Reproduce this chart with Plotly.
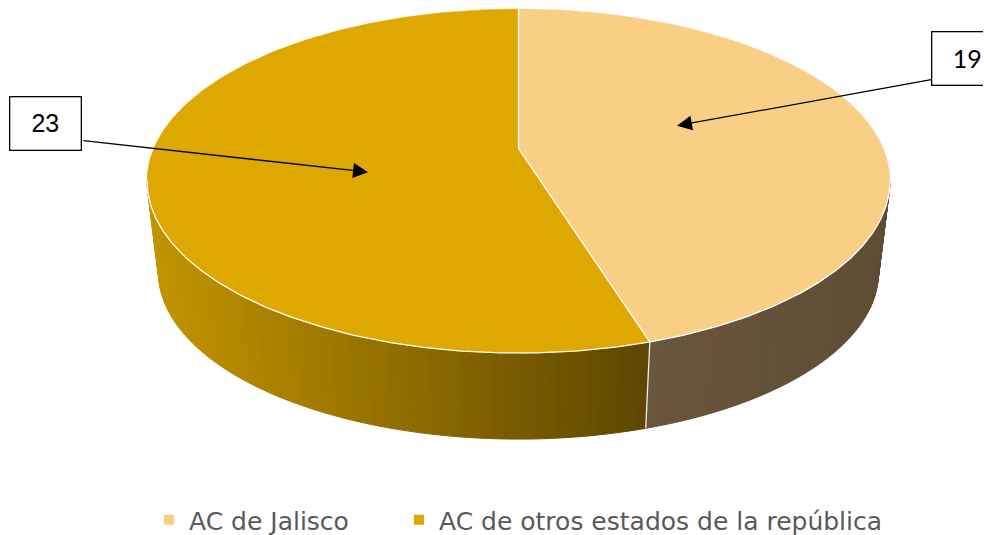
import numpy as np
import plotly.graph_objects as go

# ---------------- data ----------------
categories = ["AC de Jalisco", "AC de otros estados de la república"]
values = [19, 23]
label_texts = ["19", "23"]

# ---------------- style ----------------
top_colors = ["#F9CF86", "#DFA800"]
side_left_colors = ["#6A563C", "#C49500"]
side_right_colors = ["#5E4C35", "#5D4600"]

W, H = 991, 535
OFF = 8  # page body margin, so data coords equal window pixels
# perspective model of the tilted disc (pixel space)
CX, CY0 = 518.5, 150.0
A, B, K = 364.7, 167.7, 0.1897
VPY, F = 3164.0, 0.031


def top_pt(theta):
    t = np.radians(theta)
    u, v = np.sin(t), -np.cos(t)
    s = 1.0 / (1.0 - K * v)
    return CX + A * u * s, CY0 + B * v * s


def bot_pt(theta):
    x, y = top_pt(theta)
    return x + F * (CX - x), y + F * (VPY - y)


def hex2rgb(h):
    h = h.lstrip("#")
    return np.array([int(h[i:i + 2], 16) for i in (0, 2, 4)], dtype=float)


def mix(c1, c2, t):
    c = hex2rgb(c1) * (1 - t) + hex2rgb(c2) * t
    return "rgb(%d,%d,%d)" % tuple(np.round(c).astype(int))


# slice angles (clockwise from 12 o'clock)
total = float(sum(values))
bounds = [0.0]
for v in values:
    bounds.append(bounds[-1] + 360.0 * v / total)

# silhouette angles
grid = np.arange(0, 360, 0.1)
gx = np.array([top_pt(g)[0] for g in grid])
theta_r = grid[(grid < 180)][np.argmax(gx[grid < 180])]
theta_l = grid[(grid >= 180)][np.argmin(gx[grid >= 180])]

fig = go.Figure()

# ---- side walls (gradient strips) ----
for i in range(len(values)):
    a = max(bounds[i], theta_r)
    b = min(bounds[i + 1], theta_l)
    if b <= a:
        continue
    n = 70
    edges = np.linspace(a, b, n + 1)
    xa, xb = top_pt(a)[0], top_pt(b)[0]
    xmin, xmax = min(xa, xb), max(xa, xb)
    for j in range(n):
        ts = np.linspace(edges[j], edges[j + 1], 4)
        tp = [top_pt(t) for t in ts]
        bp = [bot_pt(t) for t in ts[::-1]]
        xs = [p[0] for p in tp] + [p[0] for p in bp]
        ys = [p[1] for p in tp] + [p[1] for p in bp]
        xm = np.mean(xs)
        tt = (xm - xmin) / (xmax - xmin) if xmax > xmin else 0
        col = mix(side_left_colors[i], side_right_colors[i], float(np.clip(tt, 0, 1)))
        fig.add_trace(go.Scatter(x=xs + [xs[0]], y=ys + [ys[0]], mode="lines",
                                 fill="toself", fillcolor=col,
                                 line=dict(color=col, width=1),
                                 hoverinfo="skip", showlegend=False))

# ---- top faces ----
for i in range(len(values)):
    ts = np.linspace(bounds[i], bounds[i + 1], 200)
    pts = [top_pt(t) for t in ts]
    xs = [CX] + [p[0] for p in pts] + [CX]
    ys = [CY0] + [p[1] for p in pts] + [CY0]
    fig.add_trace(go.Scatter(x=xs, y=ys, mode="lines", fill="toself",
                             fillcolor=top_colors[i],
                             line=dict(color=top_colors[i], width=0.5),
                             hoverinfo="skip", showlegend=False))

# ---- white edges ----
rim = np.linspace(theta_r, theta_l, 300)
fig.add_trace(go.Scatter(x=[top_pt(t)[0] for t in rim], y=[top_pt(t)[1] for t in rim],
                         mode="lines", line=dict(color="white", width=1.3),
                         hoverinfo="skip", showlegend=False))
for bnd in bounds[:-1]:
    px, py = top_pt(bnd)
    fig.add_trace(go.Scatter(x=[CX, px], y=[CY0, py], mode="lines",
                             line=dict(color="white", width=1.3),
                             hoverinfo="skip", showlegend=False))
    if theta_r <= bnd <= theta_l:
        bx, by = bot_pt(bnd)
        fig.add_trace(go.Scatter(x=[px, bx], y=[py, by], mode="lines",
                                 line=dict(color="#EEEEEE", width=1.3),
                                 hoverinfo="skip", showlegend=False))

# ---- legend entries (one legend per entry to control spacing) ----
legend_names = ["legend", "legend2"]
legend_left_px = [149, 399]  # window pixels
for cat, col, lg in zip(categories, top_colors, legend_names):
    fig.add_trace(go.Scatter(x=[None], y=[None], mode="markers", name=cat,
                             marker=dict(symbol="square", size=10, color=col),
                             hoverinfo="skip", showlegend=True, legend=lg))

# ---- data labels (callout boxes with arrows) ----
label_boxes = [(967, 59.5), (45.5, 124.5)]
arrow_tails = [(934, 80), (82, 142)]
arrow_heads = [(677, 127), (368, 174)]
label_fonts = ["Lato", "Liberation Sans"]
for txt, (bx, by), (tx, ty), (hx, hy), fnt in zip(label_texts, label_boxes,
                                                   arrow_tails, arrow_heads, label_fonts):
    fig.add_annotation(x=hx, y=hy, ax=tx, ay=ty, axref="x", ayref="y",
                       xref="x", yref="y", text="", showarrow=True,
                       arrowhead=2, arrowsize=2.3, arrowwidth=1.3,
                       arrowcolor="black", standoff=0)
    fig.add_annotation(x=bx, y=by, xref="x", yref="y", text=txt, showarrow=False,
                       font=dict(family=fnt, size=25, color="black"),
                       bgcolor="white", bordercolor="black", borderwidth=1.3,
                       borderpad=0, width=70, height=52)

legend_font = dict(family="DejaVu Sans", size=25, color="#595959")
leg_y = (H - (526 - OFF)) / H
fig.update_layout(
    width=W, height=H,
    margin=dict(l=0, r=0, t=0, b=0),
    paper_bgcolor="white", plot_bgcolor="white",
    xaxis=dict(range=[OFF, W + OFF], visible=False, fixedrange=True),
    yaxis=dict(range=[H + OFF, OFF], visible=False, fixedrange=True),
    showlegend=True,
    legend=dict(orientation="h", x=(legend_left_px[0] - OFF) / W, xanchor="left",
                y=leg_y, yanchor="middle", font=legend_font,
                bgcolor="rgba(0,0,0,0)"),
    legend2=dict(orientation="h", x=(legend_left_px[1] - OFF) / W, xanchor="left",
                 y=leg_y, yanchor="middle", font=legend_font,
                 bgcolor="rgba(0,0,0,0)"),
)

fig.write_html("out.html")
